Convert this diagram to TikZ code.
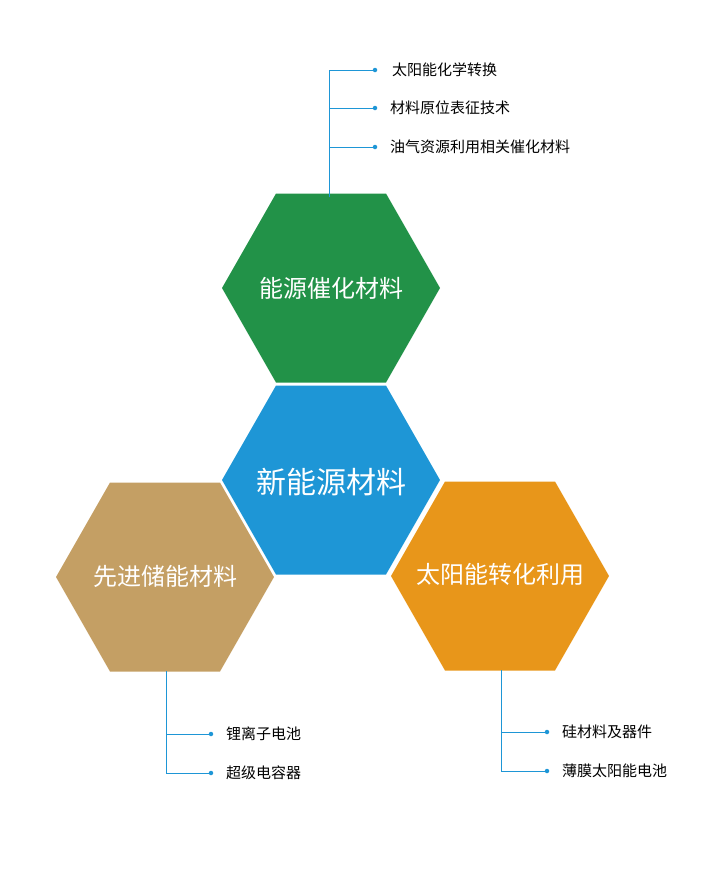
\documentclass[tikz,border=0pt]{standalone}
\usepackage{fontspec}
\setmainfont{Noto Sans CJK SC}
\begin{document}
\begin{tikzpicture}[x=1pt,y=-1pt,
  hex/.style={fill=#1,draw=none},
  htext/.style={text=white,font=\fontsize{24}{24}\selectfont},
  leaf/.style={anchor=west,font=\fontsize{15}{15}\selectfont,inner sep=0pt},
  conn/.style={draw=cline,line width=0.7pt},
  dot/.style={circle,fill=cline,inner sep=0pt,minimum size=4.5pt}]
\definecolor{cgreen}{HTML}{229248}
\definecolor{cblue}{HTML}{1E96D6}
\definecolor{ctan}{HTML}{C49F64}
\definecolor{corange}{HTML}{E8961A}
\definecolor{cline}{HTML}{1E96D6}
\useasboundingbox (0,0) rectangle (721,876);
\newcommand{\hexat}[3]{\fill[#3] (#1-109,#2) -- (#1-55,#2-94.5) -- (#1+55,#2-94.5) -- (#1+109,#2) -- (#1+55,#2+94.5) -- (#1-55,#2+94.5) -- cycle;}
\hexat{331}{288}{cgreen}
\hexat{331}{480}{cblue}
\hexat{165}{577}{ctan}
\hexat{500}{576}{corange}
\node[htext] (g) at (331,288) {能源催化材料};
\node[htext,font=\fontsize{30}{30}\selectfont] (b) at (331,482) {新能源材料};
\node[htext] (t) at (165,576) {先进储能材料};
\node[htext] (o) at (500,574) {太阳能转化利用};
% top
\coordinate (gt) at (329,197);
\coordinate (gk) at (329,70);
\node[dot] (d1) at (375,70) {};
\node[dot] (d2) at (375,108) {};
\node[dot] (d3) at (375,147) {};
\draw[conn] (gt) -- (gk) -- (d1);
\draw[conn] (d2) -- (d2 -| gk);
\draw[conn] (d3) -- (d3 -| gk);
\node[leaf] at (392,70) {太阳能化学转换};
\node[leaf] at (390,108) {材料原位表征技术};
\node[leaf] at (390,147) {油气资源利用相关催化材料};
% left
\coordinate (tt) at (166,671);
\node[dot] (d4) at (211,734) {};
\node[dot] (d5) at (211,773) {};
\draw[conn] (tt) |- (d5);
\draw[conn] (d4) -- (d4 -| tt);
\node[leaf] at (226,734) {锂离子电池};
\node[leaf] at (226,773) {超级电容器};
% right
\coordinate (ot) at (501,670);
\node[dot] (d6) at (547,732) {};
\node[dot] (d7) at (547,771) {};
\draw[conn] (ot) |- (d7);
\draw[conn] (d6) -- (d6 -| ot);
\node[leaf] at (562,732) {硅材料及器件};
\node[leaf] at (562,771) {薄膜太阳能电池};
\end{tikzpicture}
\end{document}
